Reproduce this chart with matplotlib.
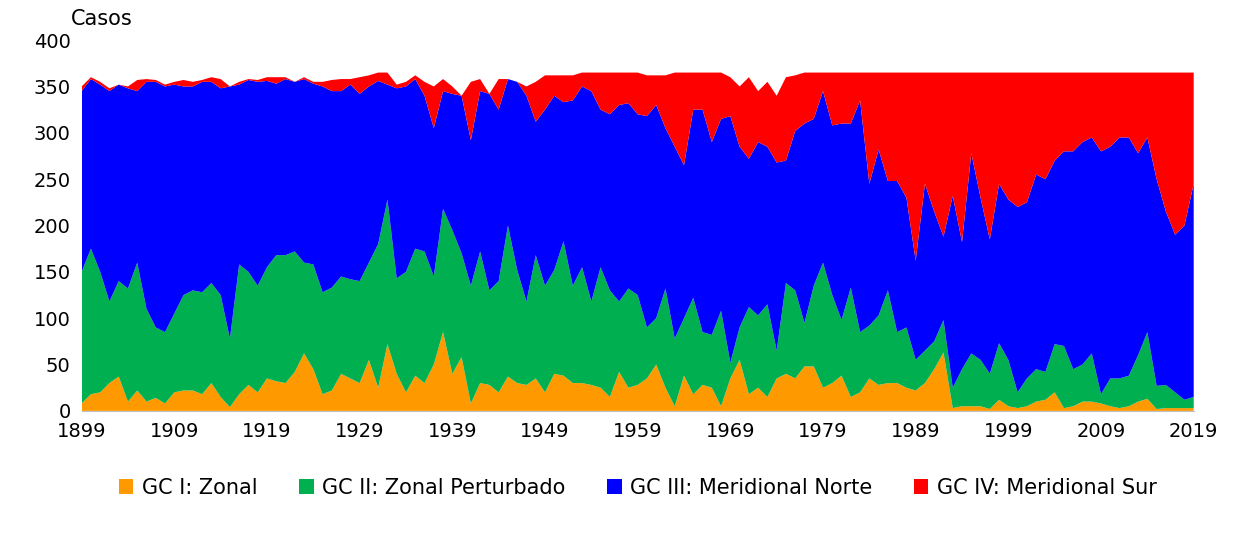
import numpy as np
import matplotlib
matplotlib.use("Agg")
import matplotlib.pyplot as plt

years = list(range(1899, 2020))

# cumulative tops
top_gc1 = [8,18,20,30,37,10,22,10,14,8,20,22,22,18,30,15,4,18,28,20,35,32,30,42,62,45,18,22,40,35,30,55,25,72,40,20,38,30,50,85,40,58,8,30,28,20,37,30,28,35,20,40,38,30,30,28,25,15,42,25,28,35,50,25,5,38,18,28,25,5,35,55,18,25,15,35,40,35,48,48,25,30,38,15,20,35,28,30,30,25,22,30,45,63,3,5,5,5,2,12,5,3,5,10,12,20,3,5,10,10,8,5,3,5,10,13,2,3,3,3,3]
top_gc2 = [150,175,150,118,140,132,160,110,90,85,105,125,130,128,138,125,78,158,150,135,155,168,168,172,160,158,128,133,145,142,140,160,180,228,143,150,175,172,145,218,195,170,135,172,130,140,200,152,118,168,135,152,183,135,155,118,155,130,118,132,125,90,100,132,78,100,122,85,82,108,52,90,112,103,115,65,138,130,95,135,160,125,98,133,85,92,103,130,85,90,55,65,75,98,25,45,62,55,40,73,55,20,35,45,42,72,70,45,50,62,18,35,35,38,60,85,27,28,20,12,15]
top_gc3 = [345,358,352,345,352,348,345,355,355,350,352,350,350,355,355,348,350,352,357,355,356,353,358,355,358,353,350,345,345,352,342,350,356,352,348,350,358,340,305,345,342,340,292,345,342,325,358,355,340,312,325,340,333,335,350,345,325,320,330,332,320,318,330,305,285,265,325,325,290,315,318,285,272,290,285,268,270,302,310,315,345,308,310,310,335,245,282,248,248,230,162,245,215,188,232,182,278,230,185,245,228,220,225,255,250,270,280,280,290,295,280,285,295,295,278,295,250,215,190,200,245]
top_gc4 = [350,360,355,348,352,350,357,358,357,352,355,357,355,357,360,358,350,355,358,357,360,360,360,355,360,355,355,357,358,358,360,362,365,365,352,355,362,355,350,358,350,340,355,358,325,358,355,340,350,355,362,362,362,362,365,365,365,365,365,365,365,362,362,362,365,365,365,365,365,365,360,350,360,345,355,340,360,362,365,365,365,365,365,365,365,365,365,365,365,365,365,365,365,365,365,365,365,365,365,365,365,365,365,365,365,365,365,365,365,365,365,365,365,365,365,365,365,365,365,365,365]

labels = ["GC I: Zonal", "GC II: Zonal Perturbado", "GC III: Meridional Norte", "GC IV: Meridional Sur"]
colors = ["#FF9900", "#00B050", "#0000FF", "#FF0000"]

c = np.array([top_gc1, top_gc2, top_gc3, top_gc4], dtype=float)
c = np.maximum.accumulate(c, axis=0)
series = np.vstack([c[0], np.diff(c, axis=0)])

fig = plt.figure(figsize=(12.37, 5.35), dpi=100)
ax = fig.add_axes([0.066, 0.232, 0.899, 0.693])
ax.stackplot(years, series, colors=colors, labels=labels, linewidth=0)
ax.set_xlim(1899, 2019)
ax.set_ylim(0, 400)
ax.set_xticks(list(range(1899, 2020, 10)))
ax.set_yticks(list(range(0, 401, 50)))
ax.tick_params(length=0, labelsize=14, pad=8)
for s in ["top", "right", "left"]:
    ax.spines[s].set_visible(False)
ax.spines["bottom"].set_color("#BFBFBF")
fig.text(0.057, 0.945, "Casos", fontsize=15, ha="left", va="bottom")
ax.legend(loc="upper center", bbox_to_anchor=(0.5, -0.13), ncol=4, frameon=False,
          fontsize=15, handlelength=0.7, handleheight=0.7, columnspacing=2.0, handletextpad=0.4)
fig.savefig("out.png", dpi=100)
